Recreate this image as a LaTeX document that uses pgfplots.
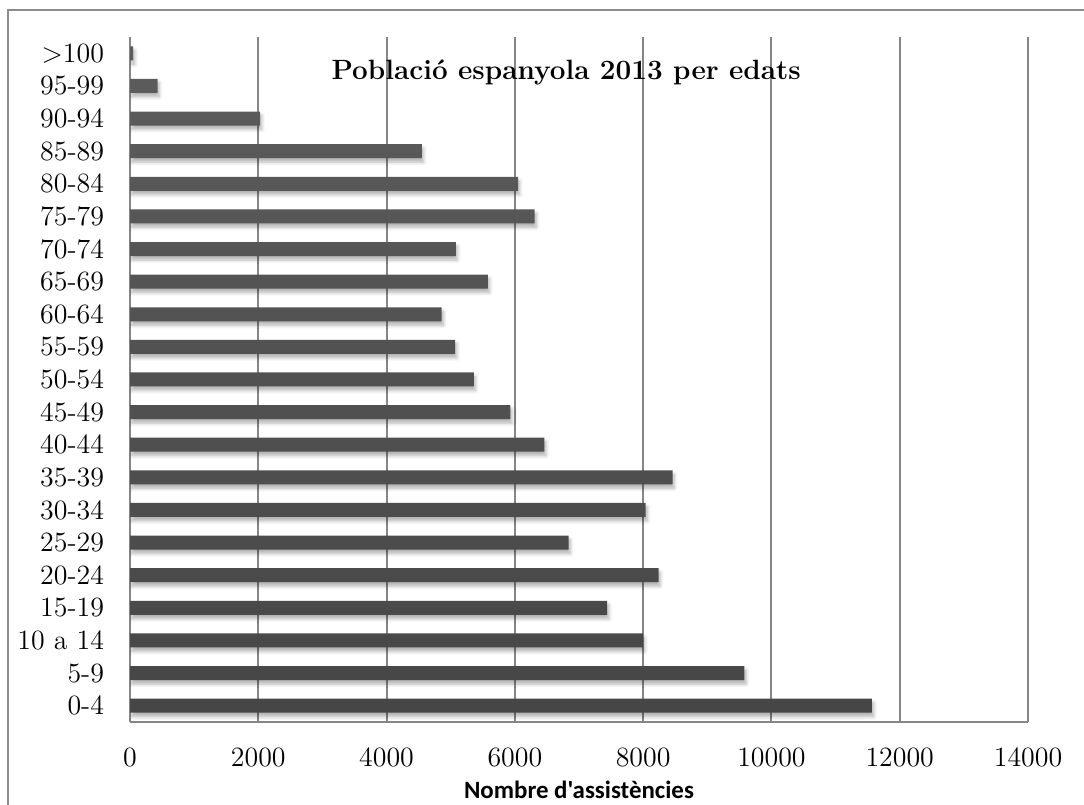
\documentclass[border=0pt]{standalone}
\usepackage{fontspec}
\setmainfont{Latin Modern Roman}
\newfontfamily\carlito{Carlito}
\usepackage{pgfplots}
\pgfplotsset{compat=1.18}
\usetikzlibrary{shadows.blur}
\definecolor{gridgray}{RGB}{134,134,134}
\definecolor{framegray}{RGB}{140,140,140}
\definecolor{bartop}{RGB}{92,92,92}
\definecolor{barbot}{RGB}{70,70,70}
\begin{document}
\begin{tikzpicture}
\useasboundingbox (0,0) rectangle (542bp,402.5bp);
\clip (0,0) rectangle (542bp,402.5bp);
\draw[framegray, line width=1bp] (4bp,-5bp) -- (4bp,397.5bp) -- (560bp,397.5bp);
\begin{axis}[
  at={(65bp,41.5bp)}, anchor=south west,
  scale only axis, width=449bp, height=342.5bp,
  xmin=0, xmax=14000, ymin=-0.5, ymax=20.5,
  xtick={0,2000,...,14000},
  scaled x ticks=false,
  ytick={0,...,20},
  yticklabels={0-4,5-9,10 a 14,15-19,20-24,25-29,30-34,35-39,40-44,45-49,50-54,55-59,60-64,65-69,70-74,75-79,80-84,85-89,90-94,95-99,>100},
  /pgf/number format/1000 sep={},
  /pgf/number format/assume math mode=true,
  xticklabel={\pgfmathprintnumber[fixed,precision=0,1000 sep={}]{\tick}},
  major tick length=0pt,
  axis x line*=bottom, axis y line*=left,
  axis line style={gridgray, line width=1bp, -},
  xmajorgrids, grid style={gridgray, line width=1bp},
  ticklabel style={font=\fontsize{14}{16}\selectfont},
  xticklabel style={yshift=-9.5bp},
  yticklabel style={xshift=-9.5bp},
  xlabel={\carlito\bfseries Nombre d'assistències},
  xlabel style={at={(axis description cs:0.5,0)}, anchor=center, yshift=-34bp, font=\fontsize{12.5}{14}\selectfont},
  xbar, bar width=7bp,
]
\addplot[draw=none, top color=bartop, bottom color=barbot,
  blur shadow={shadow xshift=0.8bp, shadow yshift=-2bp, shadow blur steps=6, shadow opacity=30}]
  coordinates {
  (11570,0) (9580,1) (8000,2) (7440,3) (8240,4) (6840,5) (8040,6) (8460,7)
  (6460,8) (5930,9) (5360,10) (5070,11) (4860,12) (5580,13) (5080,14)
  (6310,15) (6050,16) (4550,17) (2030,18) (430,19) (50,20)
  };
\node[font=\fontsize{14}{16}\selectfont\bfseries] at (axis cs:6800,19.4) {Població espanyola 2013 per edats};
\end{axis}
\end{tikzpicture}
\end{document}
